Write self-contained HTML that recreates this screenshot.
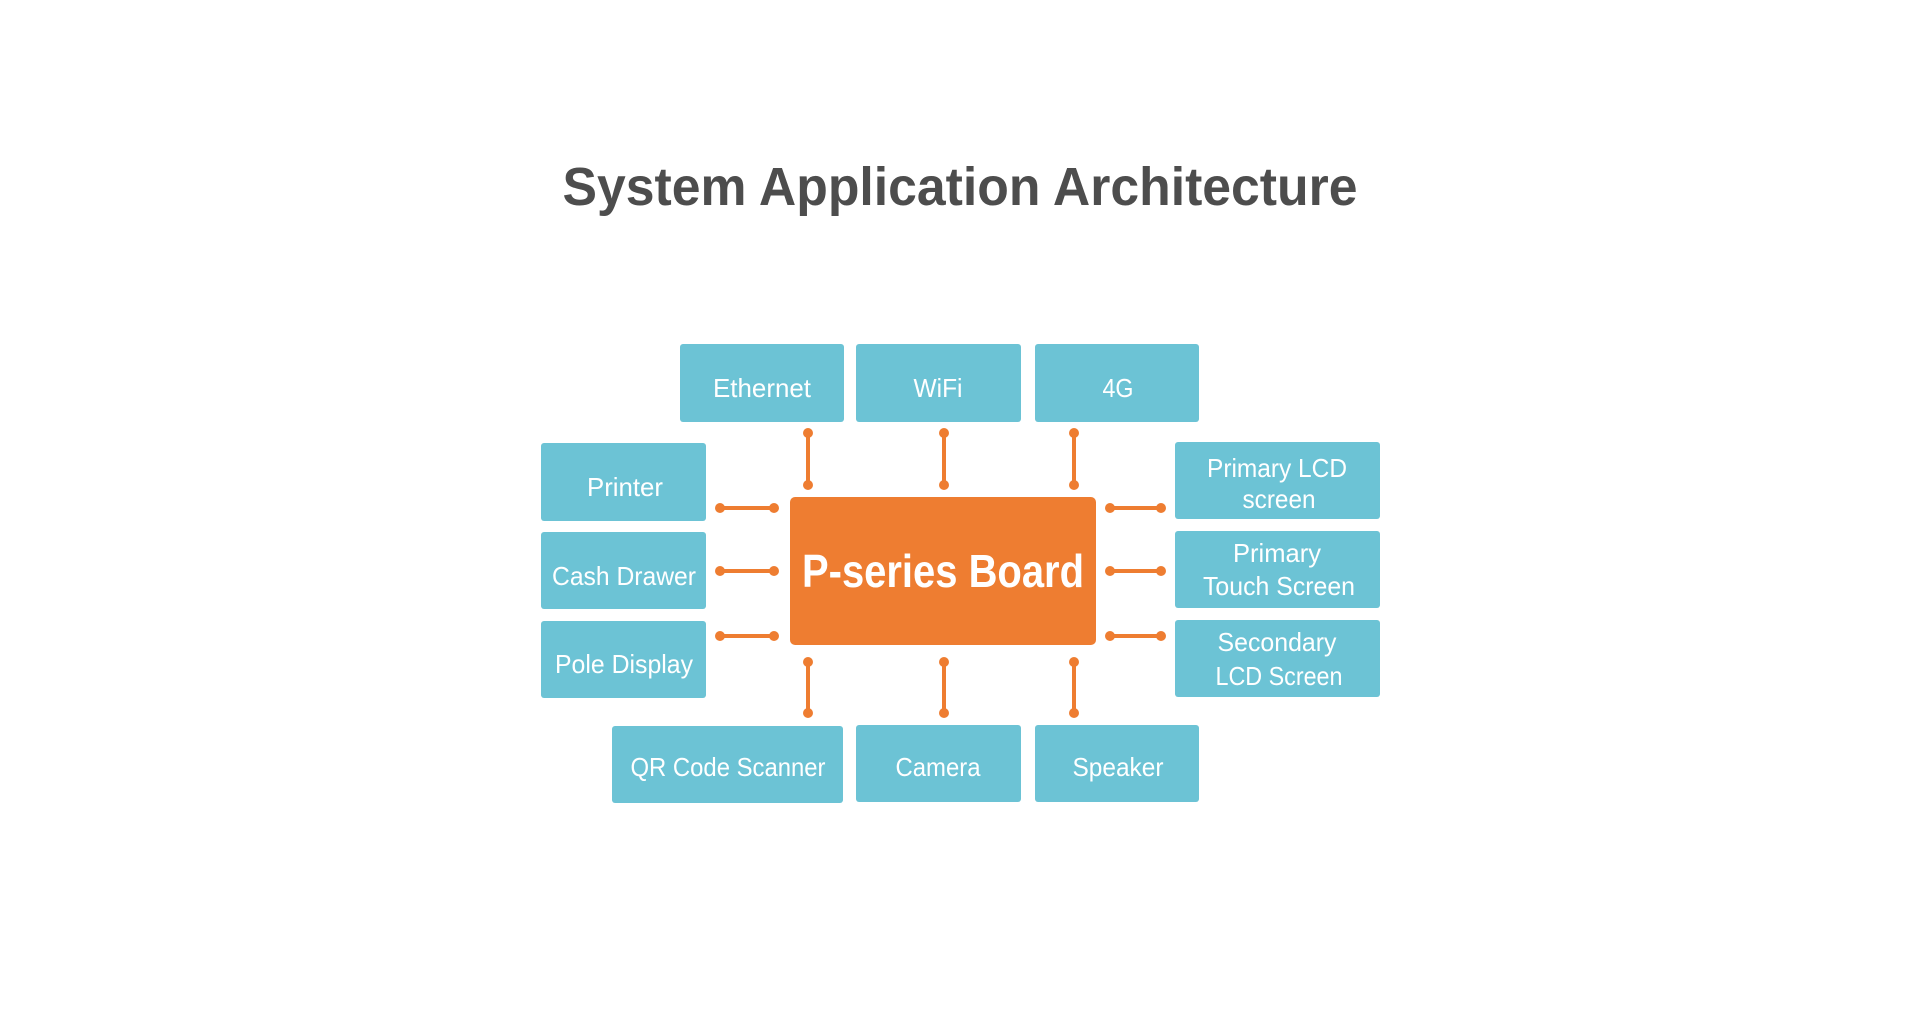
<!DOCTYPE html>
<html><head><meta charset="utf-8"><style>html,body{margin:0;padding:0;background:#fff}svg{display:block}</style></head>
<body>
<svg width="1920" height="1015" viewBox="0 0 1920 1015" xmlns="http://www.w3.org/2000/svg" font-family="Liberation Sans, sans-serif">
<rect width="1920" height="1015" fill="#fff"/>
<text x="960" y="205" font-size="54" font-weight="bold" fill="#4d4d4d" text-anchor="middle" textLength="795" lengthAdjust="spacingAndGlyphs">System Application Architecture</text>
<g transform="translate(-2,0)">
<g fill="#6cc3d5">
<rect x="682" y="344" width="164" height="78" rx="3"/>
<rect x="858" y="344" width="165" height="78" rx="3"/>
<rect x="1037" y="344" width="164" height="78" rx="3"/>
<rect x="614" y="726" width="231" height="77" rx="3"/>
<rect x="858" y="725" width="165" height="77" rx="3"/>
<rect x="1037" y="725" width="164" height="77" rx="3"/>
</g>
<rect x="792" y="497" width="306" height="148" rx="5" fill="#ee7d31"/>
<g stroke="#ee7d31" stroke-width="4" fill="#ee7d31">
<line x1="810" y1="433" x2="810" y2="485"/><line x1="946" y1="433" x2="946" y2="485"/><line x1="1076" y1="433" x2="1076" y2="485"/>
<line x1="810" y1="662" x2="810" y2="713"/><line x1="946" y1="662" x2="946" y2="713"/><line x1="1076" y1="662" x2="1076" y2="713"/>
<line x1="722" y1="508" x2="776" y2="508"/><line x1="722" y1="571" x2="776" y2="571"/><line x1="722" y1="636" x2="776" y2="636"/>
<line x1="1112" y1="508" x2="1163" y2="508"/><line x1="1112" y1="571" x2="1163" y2="571"/><line x1="1112" y1="636" x2="1163" y2="636"/>
</g>
<g fill="#ee7d31">
<circle cx="810" cy="433" r="5"/><circle cx="810" cy="485" r="5"/><circle cx="946" cy="433" r="5"/><circle cx="946" cy="485" r="5"/><circle cx="1076" cy="433" r="5"/><circle cx="1076" cy="485" r="5"/>
<circle cx="810" cy="662" r="5"/><circle cx="810" cy="713" r="5"/><circle cx="946" cy="662" r="5"/><circle cx="946" cy="713" r="5"/><circle cx="1076" cy="662" r="5"/><circle cx="1076" cy="713" r="5"/>
<circle cx="722" cy="508" r="5"/><circle cx="776" cy="508" r="5"/><circle cx="722" cy="571" r="5"/><circle cx="776" cy="571" r="5"/><circle cx="722" cy="636" r="5"/><circle cx="776" cy="636" r="5"/>
<circle cx="1112" cy="508" r="5"/><circle cx="1163" cy="508" r="5"/><circle cx="1112" cy="571" r="5"/><circle cx="1163" cy="571" r="5"/><circle cx="1112" cy="636" r="5"/><circle cx="1163" cy="636" r="5"/>
</g>
<g fill="#fff" font-size="26" text-anchor="middle">
<text x="764" y="397" textLength="98" lengthAdjust="spacingAndGlyphs">Ethernet</text>
<text x="940" y="397" textLength="49" lengthAdjust="spacingAndGlyphs">WiFi</text>
<text x="1120" y="397" textLength="31" lengthAdjust="spacingAndGlyphs">4G</text>
<text x="730" y="776" textLength="195" lengthAdjust="spacingAndGlyphs">QR Code Scanner</text>
<text x="940" y="776" textLength="85" lengthAdjust="spacingAndGlyphs">Camera</text>
<text x="1120" y="776" textLength="91" lengthAdjust="spacingAndGlyphs">Speaker</text>
</g>
<text x="945" y="587" fill="#fff" font-size="46" font-weight="bold" text-anchor="middle" textLength="282" lengthAdjust="spacingAndGlyphs">P-series Board</text>
</g>
<g fill="#6cc3d5">
<rect x="541" y="443" width="165" height="78" rx="3"/>
<rect x="541" y="532" width="165" height="77" rx="3"/>
<rect x="541" y="621" width="165" height="77" rx="3"/>
<rect x="1175" y="442" width="205" height="77" rx="3"/>
<rect x="1175" y="531" width="205" height="77" rx="3"/>
<rect x="1175" y="620" width="205" height="77" rx="3"/>
</g>
<g fill="#fff" font-size="26" text-anchor="middle">
<text x="625" y="496" textLength="76" lengthAdjust="spacingAndGlyphs">Printer</text>
<text x="624" y="585" textLength="144" lengthAdjust="spacingAndGlyphs">Cash Drawer</text>
<text x="624" y="673" textLength="138" lengthAdjust="spacingAndGlyphs">Pole Display</text>
<text x="1277" y="477" textLength="140" lengthAdjust="spacingAndGlyphs">Primary LCD</text>
<text x="1279" y="508" textLength="73" lengthAdjust="spacingAndGlyphs">screen</text>
<text x="1277" y="562" textLength="88" lengthAdjust="spacingAndGlyphs">Primary</text>
<text x="1279" y="595" textLength="152" lengthAdjust="spacingAndGlyphs">Touch Screen</text>
<text x="1277" y="651" textLength="119" lengthAdjust="spacingAndGlyphs">Secondary</text>
<text x="1279" y="685" textLength="127" lengthAdjust="spacingAndGlyphs">LCD Screen</text>
</g>
</svg>
</body></html>
